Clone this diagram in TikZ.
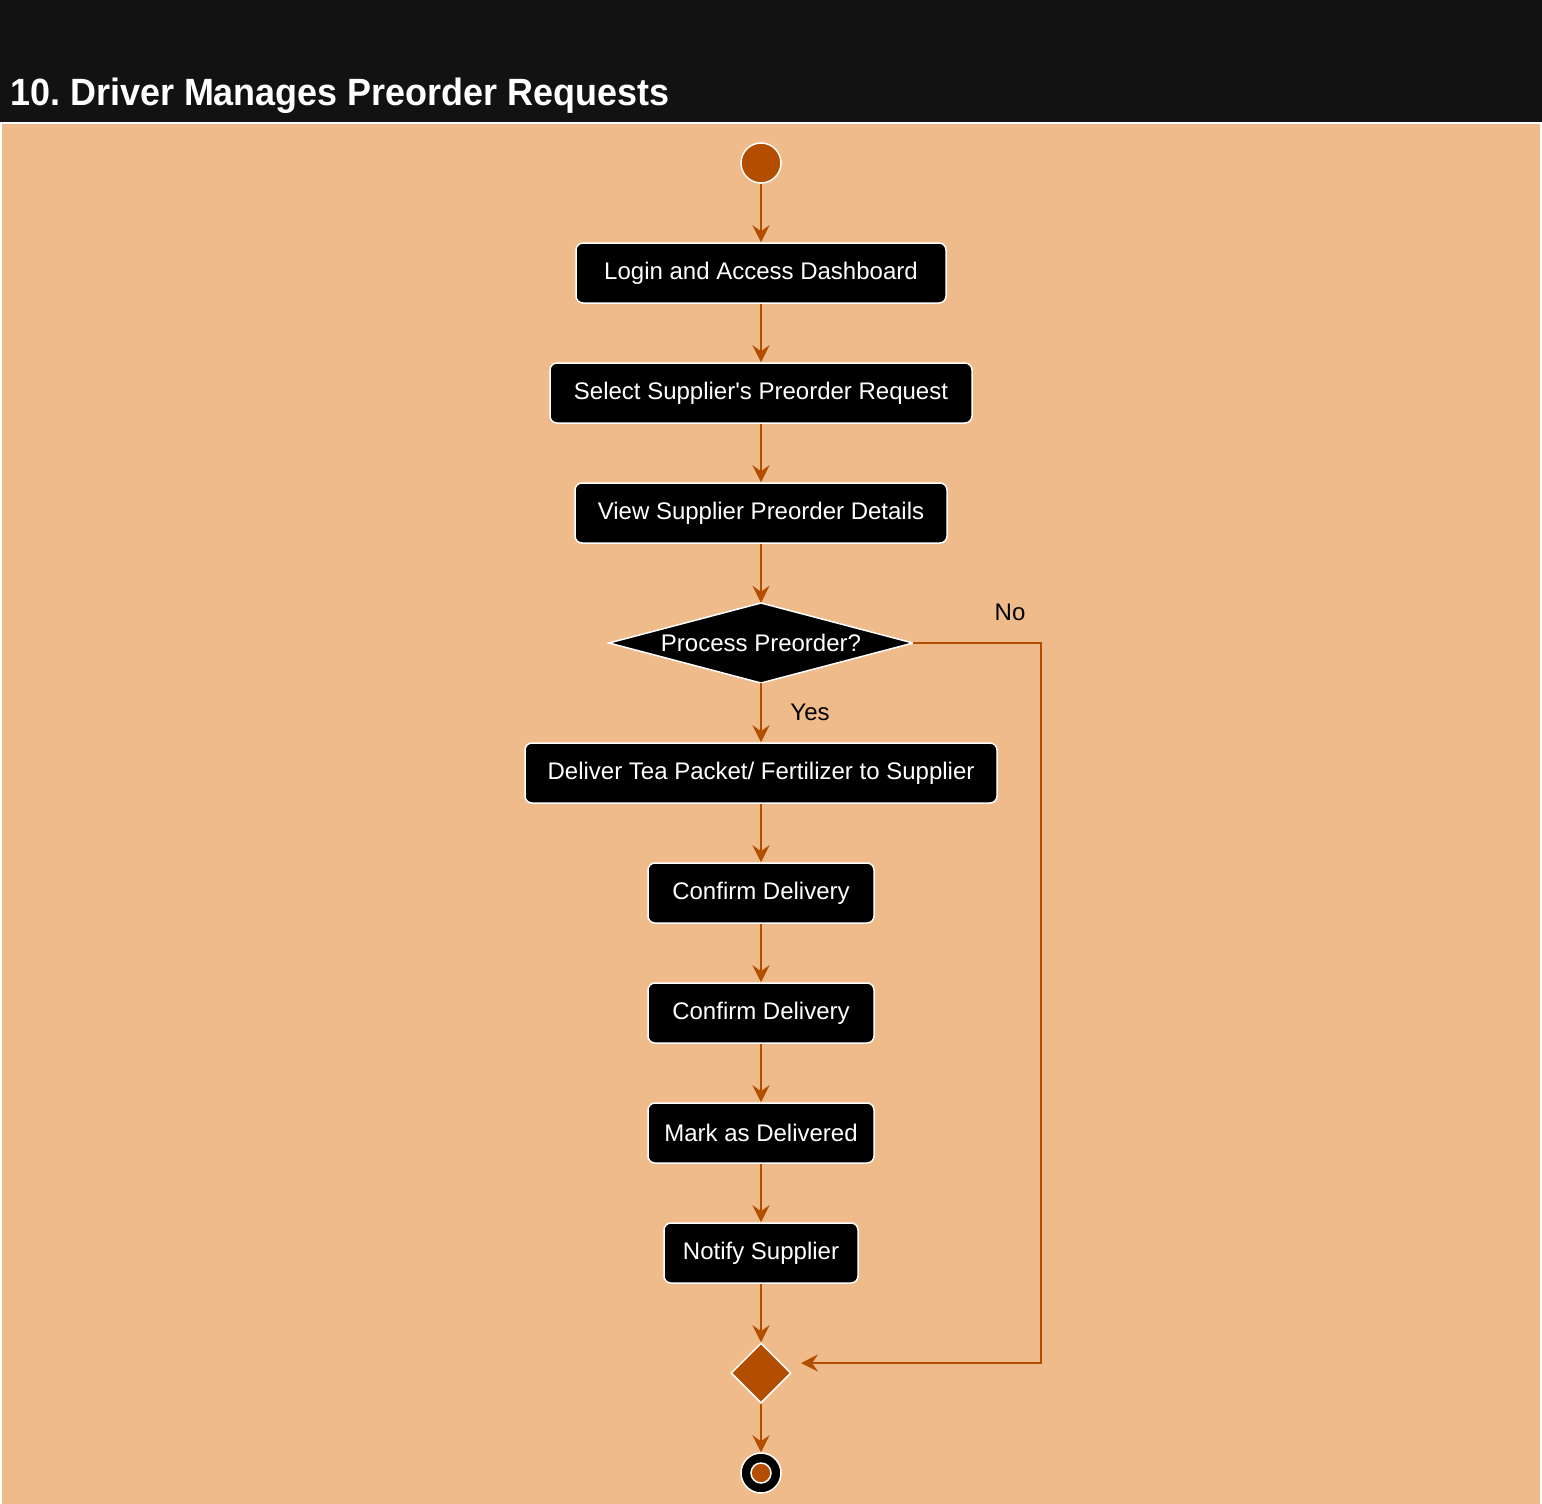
\documentclass[tikz,border=0pt]{standalone}
\usepackage{fontspec}
\defaultfontfeatures{}
\defaultfontfeatures[\rmfamily,\sffamily]{}
\setmainfont{Liberation Sans}
\frenchspacing
\usetikzlibrary{shapes.geometric,arrows.meta}
\definecolor{hdr}{HTML}{121212}
\definecolor{bg}{HTML}{F0BB8A}
\definecolor{rust}{HTML}{B34D00}
\tikzset{
  actbox/.style={draw=white, fill=black, line width=1.5pt, rounded corners=7pt, text=white,
    minimum height=60pt, inner sep=0pt, font=\fontsize{24}{28}\selectfont},
  flow/.style={draw=rust, line width=2pt, -{Stealth[length=17pt,width=17pt,inset=6pt]}},
  lbl/.style={text=black, font=\fontsize{24}{28}\selectfont, inner sep=0pt}
}
\begin{document}
\begin{tikzpicture}[x=1pt,y=-1pt]
\useasboundingbox (0,0) rectangle (1542,1504);
\fill[white] (0,0) rectangle (1542,1504);
\fill[hdr] (0,0) rectangle (1542,122);
\fill[bg] (2,124) rectangle (1540,1504);
\node[anchor=base west, text=white, inner sep=0pt, font=\bfseries\fontsize{38}{44}\selectfont] (title) at (10,106) {\scalebox{0.946}[1]{10. Driver Manages Preorder Requests}};

\node[circle, fill=rust, draw=white, line width=1.5pt, minimum size=40pt, inner sep=0pt] (start) at (761,163) {};
\node[actbox, minimum width=370pt] (b1) at (761,273) {Login and Access Dashboard};
\node[actbox, minimum width=422pt] (b2) at (761,393) {Select Supplier's Preorder Request};
\node[actbox, minimum width=372pt] (b3) at (761,513) {View Supplier Preorder Details};
\fill[black, draw=white, line width=1.5pt] (609,643) -- (761,603) -- (913,643) -- (761,683) -- cycle;
\node[rectangle, minimum width=304pt, minimum height=80pt, inner sep=0pt, text=white, font=\fontsize{24}{28}\selectfont] (dec) at (761,643) {Process Preorder?};
\node[actbox, minimum width=472pt] (b4) at (761,773) {Deliver Tea Packet/ Fertilizer to Supplier};
\node[actbox, minimum width=226pt] (b5) at (761,893) {Confirm Delivery};
\node[actbox, minimum width=226pt] (b6) at (761,1013) {Confirm Delivery};
\node[actbox, minimum width=226pt] (b7) at (761,1133) {Mark as Delivered};
\node[actbox, minimum width=194pt] (b8) at (761,1253) {Notify Supplier};
\node[diamond, fill=rust, draw=white, line width=1.5pt, minimum width=60pt, minimum height=60pt, inner sep=0pt] (merge) at (761,1373) {};
\node[circle, fill=black, draw=white, line width=1.5pt, minimum size=40pt, inner sep=0pt] (end) at (761,1473) {};
\node[circle, fill=rust, draw=white, line width=1.5pt, minimum size=20pt, inner sep=0pt] (endin) at (end.center) {};

\coordinate (cornerA) at (1041,643);
\coordinate (cornerB) at (1041,1363);
\coordinate (mergeIn) at (801,1363);

\draw[flow] (start) -- (b1);
\draw[flow] (b1) -- (b2);
\draw[flow] (b2) -- (b3);
\draw[flow] (b3) -- (dec.north);
\draw[flow] (dec.south) -- (b4);
\draw[flow] (b4) -- (b5);
\draw[flow] (b5) -- (b6);
\draw[flow] (b6) -- (b7);
\draw[flow] (b7) -- (b8);
\draw[flow] (b8) -- (merge);
\draw[flow] (merge) -- (end);
\draw[flow] (dec.east) -- (cornerA) -- (cornerB) -- (mergeIn);

\node[lbl] (yes) at (810,712) {Yes};
\node[lbl] (no) at (1010,612) {No};
\end{tikzpicture}
\end{document}
